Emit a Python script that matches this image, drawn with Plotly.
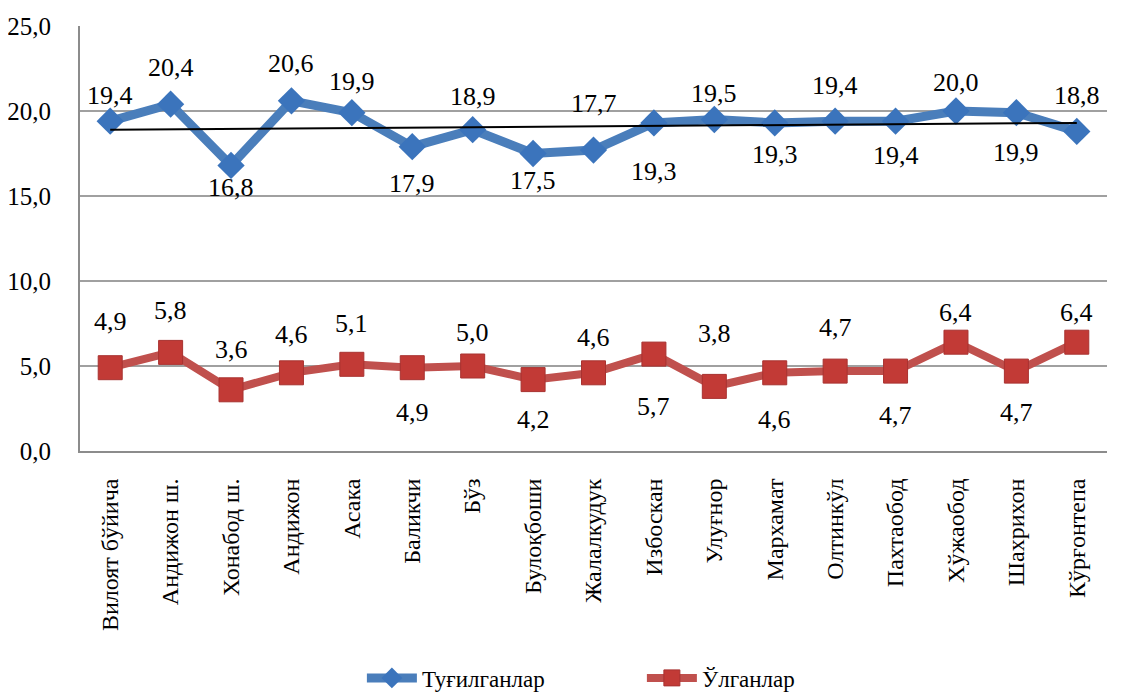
import numpy as np
import plotly.graph_objects as go

categories = ["Вилоят бўйича", "Андижон ш.", "Хонабод ш.", "Андижон", "Асака", "Баликчи",
              "Бўз", "Булоқбоши", "Жалалкудук", "Избоскан", "Улуғнор", "Мархамат",
              "Олтинкўл", "Пахтаобод", "Хўжаобод", "Шахрихон", "Кўрғонтепа"]
births = [19.4, 20.4, 16.8, 20.6, 19.9, 17.9, 18.9, 17.5, 17.7, 19.3, 19.5, 19.3, 19.4, 19.4, 20.0, 19.9, 18.8]
deaths = [4.9, 5.8, 3.6, 4.6, 5.1, 4.9, 5.0, 4.2, 4.6, 5.7, 3.8, 4.6, 4.7, 4.7, 6.4, 4.7, 6.4]
y_ticks = [0, 5, 10, 15, 20, 25]

# label offsets in px (positive = above the point)
births_shift = [26, 37, -22, 37, 31, -37, 33, -27, 47, -49, 26, -32, 36, -34, 29, -40, 36]
deaths_shift = [46, 42, 40, 38, 41, -45, 34, -40, 35, -52, 53, -47, 44, -44, 30, -41, 30]

FONT = "Liberation Serif"
x_idx = list(range(len(categories)))

fig = go.Figure()
fig.add_trace(go.Scatter(
    x=categories, y=births, name="Туғилганлар", mode="lines+markers",
    line=dict(color="#4A7EBB", width=9),
    marker=dict(symbol="diamond", size=21, color="#3B74BC", line=dict(width=0)),
))
fig.add_trace(go.Scatter(
    x=categories, y=deaths, name="Ўлганлар", mode="lines+markers",
    line=dict(color="#C0504D", width=8),
    marker=dict(symbol="square", size=24, color="#C23A36", line=dict(width=1, color="#A83230")),
))

# linear trendline for births
coef = np.polyfit(x_idx, births, 1)
trend = [coef[1], coef[1] + coef[0] * x_idx[-1]]
fig.add_trace(go.Scatter(
    x=[categories[0], categories[-1]], y=trend, mode="lines",
    line=dict(color="black", width=2), showlegend=False, hoverinfo="skip",
))

annotations = []
for c, v, s in zip(categories, births, births_shift):
    annotations.append(dict(x=c, y=v, text=f"{v:.1f}".replace(".", ","), showarrow=False,
                            yshift=s, font=dict(family=FONT, size=26, color="black")))
for c, v, s in zip(categories, deaths, deaths_shift):
    annotations.append(dict(x=c, y=v, text=f"{v:.1f}".replace(".", ","), showarrow=False,
                            yshift=s, font=dict(family=FONT, size=26, color="black")))

fig.update_layout(
    width=1116, height=685,
    margin=dict(l=72, r=17, t=18, b=242),
    paper_bgcolor="white", plot_bgcolor="white",
    separators=", ",
    font=dict(family=FONT, size=22, color="black"),
    annotations=annotations,
    showlegend=True,
    legend=dict(orientation="h", xref="container", yref="container",
                x=0.568, xanchor="center", y=0.022, yanchor="middle",
                font=dict(family=FONT, size=23, color="black"),
                entrywidth=215, itemwidth=50),
    xaxis=dict(type="category", range=[-0.5, len(categories) - 0.5],
               tickangle=-90, tickfont=dict(family=FONT, size=24, color="black"),
               showgrid=False, showline=True, linecolor="#8C8C8C", linewidth=2,
               ticks="", ticklabelstandoff=16, automargin=False),
    yaxis=dict(range=[0, 25], tickvals=y_ticks, tickformat=".1f",
               tickfont=dict(family=FONT, size=25, color="black"),
               showgrid=True, gridcolor="#A0A0A0", gridwidth=1.5,
               showline=True, linecolor="#8C8C8C", linewidth=2,
               zeroline=False, ticks="", ticklabelstandoff=22, automargin=False),
)

fig.write_html("out.html")
